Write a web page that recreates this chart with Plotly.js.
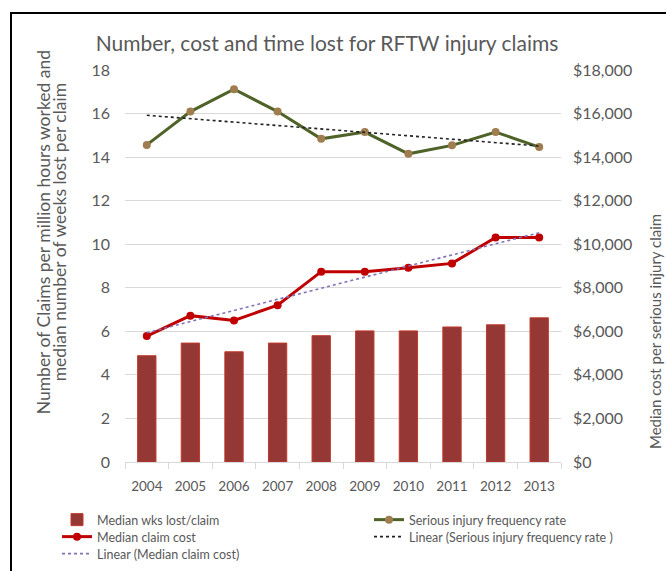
<!DOCTYPE html>
<html>
<head>
<meta charset="utf-8">
<script src="https://cdn.plot.ly/plotly-3.0.1.min.js"></script>
<style>
  html, body { margin: 0; padding: 0; background: #fff; }
  #wrap { position: relative; width: 666px; height: 571px; overflow: hidden; }
  #chart { position: absolute; left: 0; top: 0; width: 666px; height: 571px; }
  #frame { position: absolute; left: 10px; top: 12px; width: 700px; height: 600px;
           border-top: 2px solid #000; border-left: 2px solid #000; pointer-events: none; }
</style>
</head>
<body>
<div id="wrap">
  <div id="chart"></div>
  <div id="frame"></div>
</div>
<script>
// ---- data ----
const years = ['2004','2005','2006','2007','2008','2009','2010','2011','2012','2013'];
const medianWeeksLost = [4.88, 5.46, 5.06, 5.46, 5.8, 6.02, 6.02, 6.2, 6.3, 6.62];
const seriousFreqRate = [14.56, 16.09, 17.12, 16.09, 14.84, 15.15, 14.15, 14.54, 15.15, 14.46];
const medianClaimCost = [5780, 6720, 6500, 7200, 8740, 8740, 8920, 9120, 10310, 10310];

const leftTicks = [0, 2, 4, 6, 8, 10, 12, 14, 16, 18];
const rightTicks = [0, 2000, 4000, 6000, 8000, 10000, 12000, 14000, 16000, 18000];

// Excel-style linear trendline (least squares on category index)
function linearTrend(vals) {
  const n = vals.length;
  const xs = vals.map((_, i) => i);
  const mx = xs.reduce((a, b) => a + b, 0) / n;
  const my = vals.reduce((a, b) => a + b, 0) / n;
  let num = 0, den = 0;
  for (let i = 0; i < n; i++) { num += (xs[i] - mx) * (vals[i] - my); den += (xs[i] - mx) ** 2; }
  const slope = num / den, icpt = my - slope * mx;
  return xs.map(x => icpt + slope * x);
}

const FONT = 'Lato, "Open Sans", sans-serif';
const GREY = '#595959';

const traces = [
  {
    type: 'bar', x: years, y: medianWeeksLost, name: 'Median wks lost/claim',
    marker: { color: '#953735', line: { color: '#C0392B', width: 1 } },
    yaxis: 'y', legend: 'legend'
  },
  {
    type: 'scatter', mode: 'lines+markers', x: years, y: seriousFreqRate,
    name: 'Serious injury frequency rate',
    line: { color: '#4F6228', width: 3 },
    marker: { color: '#A07D4E', size: 8, symbol: 'circle' },
    yaxis: 'y', legend: 'legend2'
  },
  {
    type: 'scatter', mode: 'lines+markers', x: years, y: medianClaimCost,
    name: 'Median claim cost',
    line: { color: '#C00000', width: 3 },
    marker: { color: '#C00000', size: 8, symbol: 'circle' },
    yaxis: 'y2', legend: 'legend3'
  },
  {
    type: 'scatter', mode: 'lines', x: years, y: linearTrend(seriousFreqRate),
    name: 'Linear (Serious injury frequency rate )',
    line: { color: '#222222', width: 1.6, dash: 'dot' },
    yaxis: 'y', legend: 'legend4'
  },
  {
    type: 'scatter', mode: 'lines', x: years, y: linearTrend(medianClaimCost),
    name: 'Linear (Median claim cost)',
    line: { color: '#8470B8', width: 1.6, dash: 'dot' },
    yaxis: 'y2', legend: 'legend5'
  }
];

const legFont = { family: FONT, size: 12.5, color: GREY };
function leg(x, y) {
  return { orientation: 'h', xref: 'container', yref: 'container',
           x: x, xanchor: 'left', y: y, yanchor: 'middle',
           font: legFont, itemwidth: 30, bgcolor: 'rgba(0,0,0,0)' };
}
const col1 = 57 / 666, col2 = 369 / 666;
const row1 = 1 - 520 / 571, row2 = 1 - 537 / 571, row3 = 1 - 554 / 571;

const layout = {
  width: 666, height: 571,
  margin: { l: 125, r: 105, t: 70, b: 109 },
  paper_bgcolor: '#fff', plot_bgcolor: '#fff',
  font: { family: FONT, color: GREY, size: 14 },
  showlegend: true,
  bargap: 0.58,
  title: {
    text: 'Number, cost and time lost for RFTW injury claims',
    font: { family: FONT, size: 21, color: GREY },
    xref: 'container', yref: 'container',
    x: 0.491, xanchor: 'center', y: 0.923, yanchor: 'middle'
  },
  xaxis: {
    type: 'category', range: [-0.5, 9.5],
    showline: true, linecolor: '#D9D9D9', linewidth: 1,
    ticks: 'outside', tickson: 'boundaries', ticklen: 6, tickcolor: '#D9D9D9',
    ticklabelstandoff: 12, tickangle: 0,
    showgrid: false, tickfont: { family: FONT, size: 13.5, color: GREY }
  },
  yaxis: {
    range: [0, 18], tickvals: leftTicks, ticktext: leftTicks.map(String),
    showgrid: true, gridcolor: '#D9D9D9', gridwidth: 1, zeroline: false,
    showline: false, ticks: '', ticklabelstandoff: 14,
    tickfont: { family: FONT, size: 16, color: GREY }
  },
  yaxis2: {
    overlaying: 'y', side: 'right', range: [0, 18000],
    tickvals: rightTicks, ticktext: rightTicks.map(v => '$' + v.toLocaleString('en-US')),
    showgrid: false, zeroline: false, showline: false, ticks: '', ticklabelstandoff: 11,
    tickfont: { family: FONT, size: 16, color: GREY }
  },
  legend: leg(col1, row1),
  legend2: leg(col2, row1),
  legend3: leg(col1, row2),
  legend4: leg(col2, row2),
  legend5: leg(col1, row3),
  annotations: [
    {
      text: 'Number of Claims per million hours worked and', textangle: -90,
      xref: 'paper', yref: 'paper', x: -0.1881, y: 0.586, xanchor: 'center', yanchor: 'middle',
      showarrow: false, font: { family: FONT, size: 17.5, color: GREY }
    },
    {
      text: 'median number of weeks lost per claim', textangle: -90,
      xref: 'paper', yref: 'paper', x: -0.1514, y: 0.586, xanchor: 'center', yanchor: 'middle',
      showarrow: false, font: { family: FONT, size: 17.5, color: GREY }
    },
    {
      text: 'Median cost per serious injury claim', textangle: -90,
      xref: 'paper', yref: 'paper', x: 1.216, y: 0.332, xanchor: 'center', yanchor: 'middle',
      showarrow: false, font: { family: FONT, size: 15, color: GREY }
    }
  ]
};

Plotly.newPlot('chart', traces, layout, { displayModeBar: false, staticPlot: true });
</script>
</body>
</html>
